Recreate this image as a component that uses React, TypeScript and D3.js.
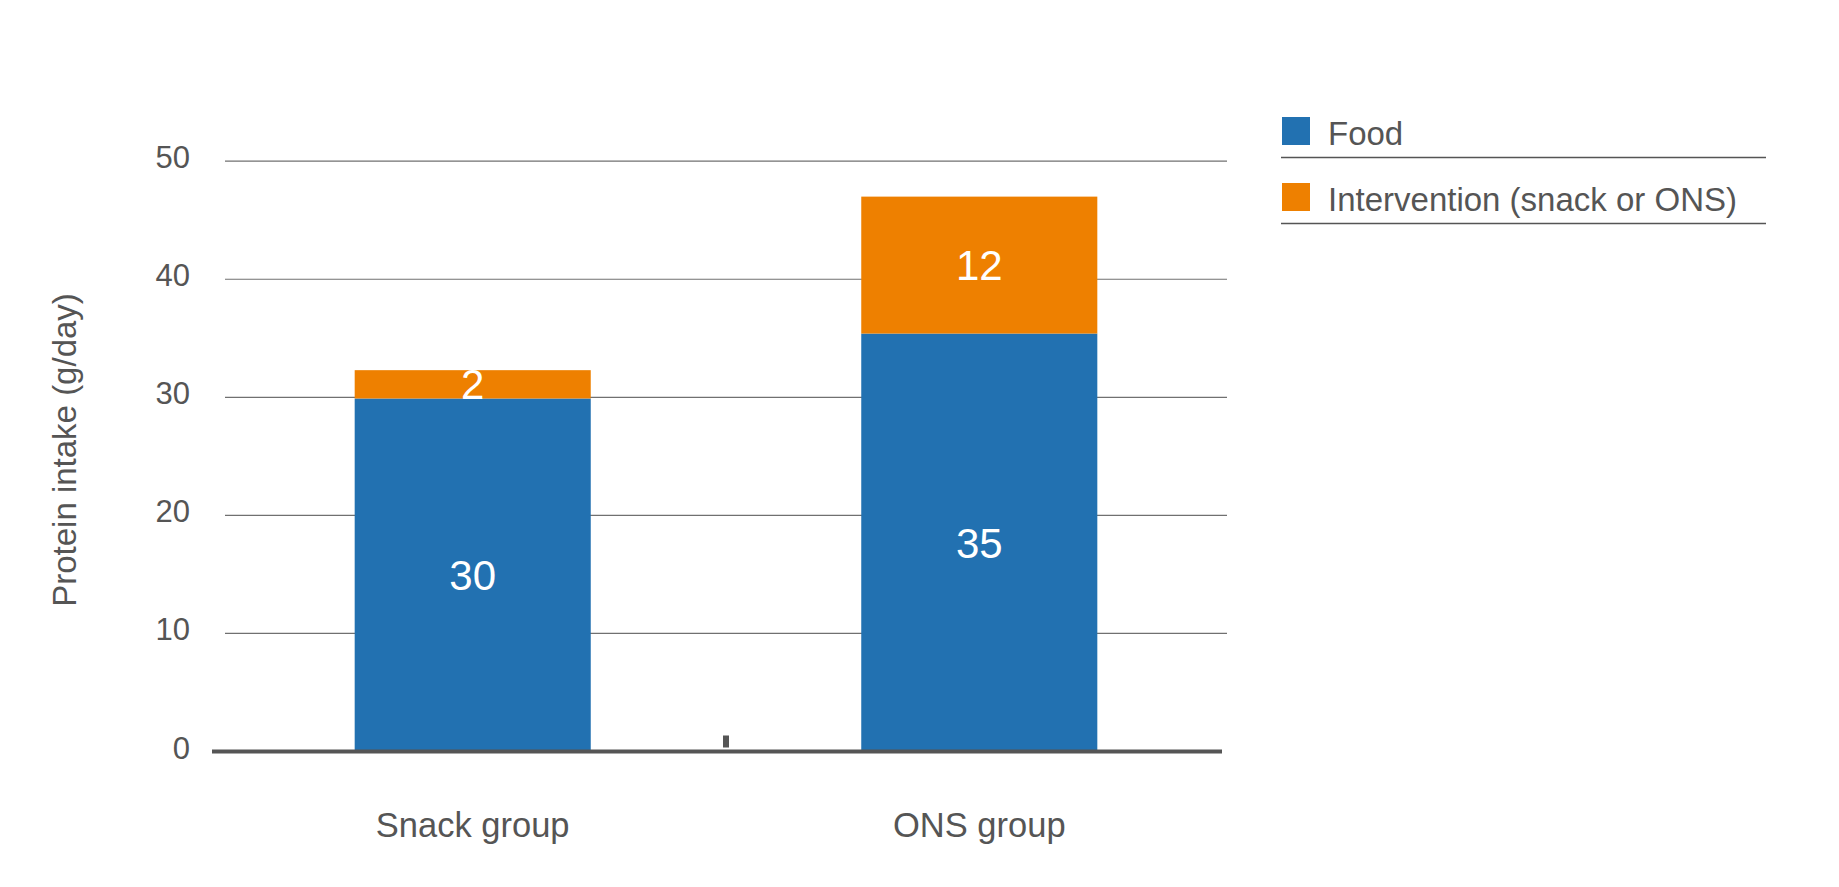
import { useRef, useEffect } from "react";
import * as d3 from "d3";

const groups = ["Snack group", "ONS group"];
const foodValues = [29.9, 35.4];
const interventionValues = [2.4, 11.6];
const seriesNames = ["Food", "Intervention (snack or ONS)"];
const seriesColors = ["#2271b1", "#ee8000"];
const yTicks = [0, 10, 20, 30, 40, 50];
const yTitle = "Protein intake (g/day)";

const FONT = "'Liberation Sans', Arial, Helvetica, sans-serif";
const TEXT = "#555555";

export default function App() {
  const svgRef = useRef<SVGSVGElement>(null);

  useEffect(() => {
    if (!svgRef.current) return;
    const svg = d3.select(svgRef.current);
    svg.selectAll("*").remove();

    const width = 1839;
    const height = 887;
    svg.attr("width", width).attr("height", height);

    svg.append("rect").attr("width", width).attr("height", height).attr("fill", "#fff");

    const x = d3
      .scaleBand<string>()
      .domain(groups)
      .range([225, 1227])
      .paddingInner(0.534)
      .paddingOuter(0.256);

    const y = d3.scaleLinear().domain([0, 50]).range([751.5, 161.2]);

    // gridlines
    svg
      .append("g")
      .selectAll("line")
      .data(yTicks.filter((t) => t > 0))
      .enter()
      .append("line")
      .attr("x1", 225)
      .attr("x2", 1227)
      .attr("y1", (d) => y(d))
      .attr("y2", (d) => y(d))
      .attr("stroke", "#707070")
      .attr("stroke-width", 1.2);

    // tick labels
    svg
      .append("g")
      .selectAll("text")
      .data(yTicks)
      .enter()
      .append("text")
      .attr("x", 190)
      .attr("y", (d) => y(d) + 7)
      .attr("text-anchor", "end")
      .attr("font-family", FONT)
      .attr("font-size", 31)
      .attr("fill", TEXT)
      .text((d) => d);

    // axis title
    svg
      .append("text")
      .attr("transform", "translate(76,450) rotate(-90)")
      .attr("text-anchor", "middle")
      .attr("font-family", FONT)
      .attr("font-size", 33)
      .attr("fill", TEXT)
      .text(yTitle);

    // stacked bars
    const rows = groups.map((g, i) => ({ group: g, food: foodValues[i], intervention: interventionValues[i] }));
    const stack = d3.stack<any>().keys(["food", "intervention"]);
    const layers = stack(rows);

    layers.forEach((layer, li) => {
      const lg = svg.append("g");
      lg.selectAll("rect")
        .data(layer)
        .enter()
        .append("rect")
        .attr("x", (d) => x(d.data.group)!)
        .attr("width", x.bandwidth())
        .attr("y", (d) => y(d[1]))
        .attr("height", (d) => y(d[0]) - y(d[1]))
        .attr("fill", seriesColors[li]);

      lg.selectAll("text")
        .data(layer)
        .enter()
        .append("text")
        .attr("x", (d) => x(d.data.group)! + x.bandwidth() / 2)
        .attr("y", (d) => (y(d[0]) + y(d[1])) / 2 + 15)
        .attr("text-anchor", "middle")
        .attr("font-family", FONT)
        .attr("font-size", 42)
        .attr("fill", "#fff")
        .text((d) => Math.round(d[1] - d[0]));
    });

    // baseline
    svg
      .append("line")
      .attr("x1", 212)
      .attr("x2", 1222)
      .attr("y1", y(0))
      .attr("y2", y(0))
      .attr("stroke", "#555")
      .attr("stroke-width", 4);

    // small tick between groups
    const mid = (x(groups[0])! + x.bandwidth() + x(groups[1])!) / 2;
    svg
      .append("rect")
      .attr("x", mid - 3)
      .attr("y", y(0) - 16)
      .attr("width", 6)
      .attr("height", 12)
      .attr("fill", "#555");

    // category labels
    svg
      .append("g")
      .selectAll("text")
      .data(groups)
      .enter()
      .append("text")
      .attr("x", (d) => x(d)! + x.bandwidth() / 2)
      .attr("y", 837)
      .attr("text-anchor", "middle")
      .attr("font-family", FONT)
      .attr("font-size", 34.5)
      .attr("fill", TEXT)
      .text((d) => d);

    // legend
    const legend = svg.append("g").attr("transform", "translate(1281,117)");
    seriesNames.forEach((name, i) => {
      const row = legend.append("g").attr("transform", `translate(0,${i * 66})`);
      row.append("rect").attr("x", 1).attr("y", 0).attr("width", 28).attr("height", 28).attr("fill", seriesColors[i]);
      row
        .append("text")
        .attr("x", 47)
        .attr("y", 27.5)
        .attr("font-family", FONT)
        .attr("font-size", 33)
        .attr("fill", TEXT)
        .text(name);
      row
        .append("line")
        .attr("x1", 0)
        .attr("x2", 485)
        .attr("y1", 40.5)
        .attr("y2", 40.5)
        .attr("stroke", "#555")
        .attr("stroke-width", 1.5);
    });
  }, []);

  return <svg ref={svgRef} style={{ position: "absolute", left: 0, top: 0 }} />;
}
